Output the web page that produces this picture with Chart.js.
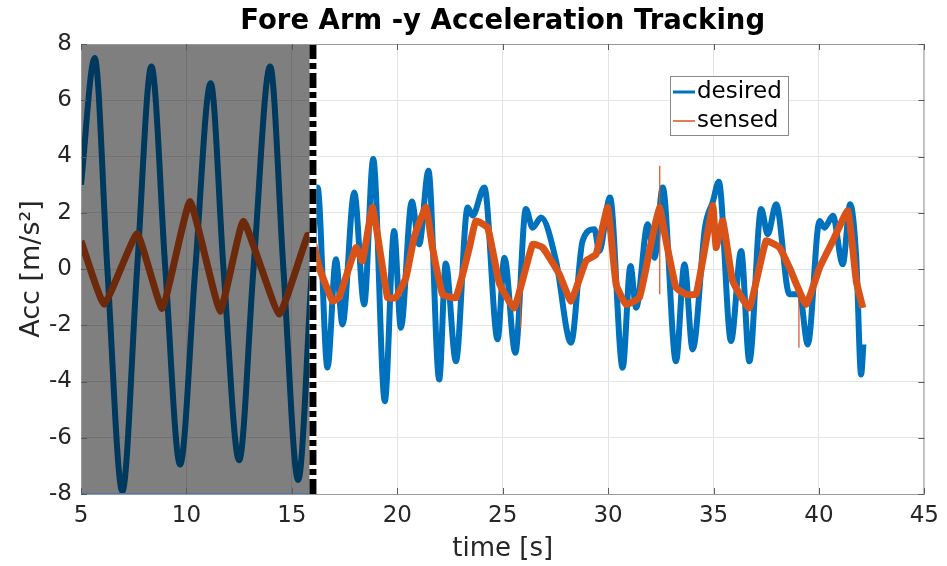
<!DOCTYPE html>
<html>
<head>
<meta charset="utf-8">
<script src="https://cdn.jsdelivr.net/npm/chart.js@4.4.1/dist/chart.umd.min.js"></script>
<style>
  html, body { margin: 0; padding: 0; background: #fff; }
  canvas { display: block; }
</style>
</head>
<body>
<canvas id="accChart" width="947" height="566"></canvas>
<script>
// time [s] and acceleration [m/s^2]
const desiredT = [5.0, 5.65, 6.25, 6.96, 7.66, 8.34, 9.0, 9.7, 10.42, 11.15, 11.76, 12.5, 13.18, 13.97, 14.6, 15.3, 15.95,
  16.22, 16.69, 17.09, 17.4, 17.96, 18.43, 18.86, 19.41, 19.85, 20.17, 20.69, 21.04, 21.48, 21.99, 22.3, 22.78,
  23.34, 23.57, 24.13, 24.76, 25.08, 25.6, 26.1, 26.42, 26.82, 27.53, 28.24, 28.79, 29.35, 29.58, 30.09, 30.69,
  31.06, 31.33, 31.88, 32.2, 32.59, 33.22, 33.62, 34.01, 34.6, 34.97, 35.25, 35.83, 36.31, 36.7, 37.26, 37.57,
  37.97, 38.6, 39.08, 39.47, 40.03, 40.26, 40.66, 41.13, 41.48, 41.77, 42.0, 42.11];
const desiredV = [3.0, 7.5, 0, -7.9, 0, 7.2, 0, -6.95, 0, 6.6, 0, -6.8, 0, 7.2, 0, -7.5, 0,
  2.9, -3.5, 0.35, -1.97, 2.72, -1.26, 3.91, -4.7, 1.35, -2.09, 2.4, 0.88, 3.49, -3.93, 0.2, -3.28,
  2.19, 1.9, 2.9, -2.5, 0.4, -2.98, 2.13, 1.47, 1.83, 0.29, -2.62, 1.0, 1.41, 0.64, 2.54, -3.51,
  0.11, -1.38, 1.59, 0.4, 2.9, -3.28, 0.17, -2.86, 1.5, 2.4, 3.1, -2.56, 0.64, -3.28, 2.13, 1.24,
  2.3, -0.9, -0.9, -2.68, 1.71, 1.47, 1.89, 0.17, 2.3, 0.4, -3.75, -2.68];

const sensedT = [5.0, 6.1, 7.66, 8.85, 10.17, 11.6, 12.7, 14.4, 15.75, 16.0, 16.3, 16.93, 17.24, 18.04, 18.35, 18.83,
  19.54, 19.93, 20.41, 20.8, 21.36, 21.67, 22.15, 22.78, 23.42, 23.73, 24.29, 24.84, 25.55, 26.42, 26.9, 27.69,
  28.24, 28.95, 29.43, 29.98, 30.38, 30.85, 31.48, 31.96, 32.43, 32.75, 33.22, 33.7, 34.17, 34.65, 34.97, 35.12,
  35.44, 35.91, 36.7, 37.49, 38.13, 38.6, 39.39, 40.03, 40.66, 41.37, 41.77, 42.08];
const sensedV = [1.0, -1.25, 1.25, -1.4, 2.4, -1.5, 1.7, -1.6, 1.2, 1.0, 0.05, -1.14, -1.02, 0.76, 0.29, 2.19,
  -1.02, -1.02, -0.31, 1.12, 2.19, 0.76, -0.9, -1.02, 0.76, 1.71, 1.47, -0.5, -1.38, 0.88, 0.76, -0.19,
  -1.14, 0.29, 0.52, 2.19, -0.55, -1.26, -1.02, 0.64, 2.19, 1.0, -0.66, -0.9, -0.9, 1.0, 2.25, 0.76,
  1.71, -0.43, -1.38, 1.0, 0.76, 0.05, -1.26, 0.05, 1.0, 2.07, -0.43, -1.38];

// thin outliers in the sensed signal (null breaks the line)
const spikeT = [5.02, 5.02, null, 25.85, 25.85, null, 32.45, 32.45, null, 39.05, 39.05];
const spikeV = [-1.4, 5.7, null, -0.6, -2.1, null, -0.9, 3.67, null, -0.6, -2.8];

const xTicks = [5, 10, 15, 20, 25, 30, 35, 40, 45];
const yTicks = [-8, -6, -4, -2, 0, 2, 4, 6, 8];
const shadeFrom = 5;
const shadeTo = 16;

const blue = '#0072BD';
const orange = '#D95319';
const textColor = '#262626';
const fontFamily = "'DejaVu Sans', sans-serif";

function toPoints(ts, vs) {
  return ts.map((t, i) => (t === null ? { x: null, y: null } : { x: t, y: vs[i] }));
}

// grey shaded region, dash-dot marker at t=16, axes box, legend and title
const decorPlugin = {
  id: 'decor',
  afterDatasetsDraw(chart) {
    const { ctx, chartArea: a, scales: { x, y } } = chart;
    const x0 = x.getPixelForValue(shadeFrom);
    const x1 = x.getPixelForValue(shadeTo);
    const yTop = y.getPixelForValue(8);
    const yBot = y.getPixelForValue(-8);
    ctx.save();
    ctx.fillStyle = 'rgba(0,0,0,0.5)';
    ctx.fillRect(x0, yTop, x1 - x0, yBot - yTop);
    ctx.strokeStyle = '#4a78ad';
    ctx.lineWidth = 1;
    ctx.strokeRect(x0 + 0.5, yTop + 0.5, x1 - x0 - 1, yBot - yTop - 1);

    // vertical dash-dot line
    ctx.lineWidth = 7;
    ctx.strokeStyle = '#fff';
    ctx.beginPath();
    ctx.moveTo(x1, yTop);
    ctx.lineTo(x1, yBot);
    ctx.stroke();
    ctx.strokeStyle = '#000';
    ctx.setLineDash([15, 4, 6, 4]);
    ctx.beginPath();
    ctx.moveTo(x1, yTop);
    ctx.lineTo(x1, yBot);
    ctx.stroke();
    ctx.setLineDash([]);

    // axes box
    ctx.strokeStyle = '#9a9a9a';
    ctx.lineWidth = 1;
    ctx.strokeRect(a.left + 0.5, a.top + 0.5, a.right - a.left - 1, a.bottom - a.top);

    // inward ticks
    ctx.strokeStyle = '#5a5a5a';
    ctx.beginPath();
    xTicks.forEach(v => {
      const px = Math.round(x.getPixelForValue(v)) + 0.5;
      ctx.moveTo(px, a.bottom); ctx.lineTo(px, a.bottom - 6);
      ctx.moveTo(px, a.top); ctx.lineTo(px, a.top + 6);
    });
    yTicks.forEach(v => {
      const py = Math.round(y.getPixelForValue(v)) + 0.5;
      ctx.moveTo(a.left, py); ctx.lineTo(a.left + 6, py);
      ctx.moveTo(a.right, py); ctx.lineTo(a.right - 6, py);
    });
    ctx.stroke();

    // legend
    const lx = 670, ly = 76, lw = 118, lh = 59;
    ctx.fillStyle = '#fff';
    ctx.fillRect(lx, ly, lw, lh);
    ctx.strokeStyle = '#8a8a8a';
    ctx.strokeRect(lx + 0.5, ly + 0.5, lw, lh);
    ctx.font = '23px ' + fontFamily;
    ctx.textBaseline = 'middle';
    ctx.textAlign = 'left';
    const rows = [['desired', blue, 3, 92], ['sensed', orange, 1.5, 121]];
    rows.forEach(([label, color, w, yy]) => {
      ctx.strokeStyle = color;
      ctx.lineWidth = w;
      ctx.beginPath();
      ctx.moveTo(673, yy);
      ctx.lineTo(695, yy);
      ctx.stroke();
      ctx.fillStyle = '#000';
      ctx.fillText(label, 697, yy);
    });
    ctx.restore();
  },
  afterDraw(chart) {
    const { ctx, chartArea: a } = chart;
    ctx.save();
    ctx.font = 'bold 27.5px ' + fontFamily;
    ctx.fillStyle = '#000';
    ctx.textAlign = 'center';
    ctx.textBaseline = 'middle';
    ctx.fillText('Fore Arm -y Acceleration Tracking', (a.left + a.right) / 2, 22);
    ctx.restore();
  }
};

const ctx = document.getElementById('accChart').getContext('2d');
new Chart(ctx, {
  type: 'line',
  data: {
    datasets: [
      {
        label: 'desired',
        data: toPoints(desiredT, desiredV),
        borderColor: blue,
        borderWidth: 6,
        pointRadius: 0,
        cubicInterpolationMode: 'monotone',
        order: 3
      },
      {
        label: 'sensed',
        data: toPoints(sensedT, sensedV),
        borderColor: orange,
        borderWidth: 7,
        pointRadius: 0,
        tension: 0.12,
        order: 2
      },
      {
        label: 'sensed spikes',
        data: toPoints(spikeT, spikeV),
        borderColor: orange,
        borderWidth: 1.2,
        pointRadius: 0,
        spanGaps: false,
        order: 1
      }
    ]
  },
  options: {
    responsive: false,
    animation: false,
    devicePixelRatio: 1,
    layout: { padding: { top: 44, right: 20, left: 0, bottom: 0 } },
    plugins: {
      legend: { display: false },
      tooltip: { enabled: false }
    },
    scales: {
      x: {
        type: 'linear',
        min: 5,
        max: 45,
        afterBuildTicks: s => { s.ticks = xTicks.map(v => ({ value: v })); },
        afterFit: s => { s.height = 72; },
        ticks: { color: textColor, font: { family: fontFamily, size: 23 }, padding: 8, maxRotation: 0 },
        grid: { color: '#e4e4e4', drawTicks: false },
        border: { display: false },
        title: {
          display: true,
          text: 'time [s]',
          color: textColor,
          font: { family: fontFamily, size: 26 },
          padding: { bottom: 1 }
        }
      },
      y: {
        type: 'linear',
        min: -8,
        max: 8,
        afterBuildTicks: s => { s.ticks = yTicks.map(v => ({ value: v })); },
        afterFit: s => { s.width = 81; },
        ticks: { color: textColor, font: { family: fontFamily, size: 23 }, padding: 9 },
        grid: { color: '#e4e4e4', drawTicks: false },
        border: { display: false },
        title: {
          display: true,
          text: 'Acc [m/s²]',
          color: textColor,
          font: { family: fontFamily, size: 27 },
          padding: { top: 16 }
        }
      }
    }
  },
  plugins: [decorPlugin]
});
</script>
</body>
</html>
